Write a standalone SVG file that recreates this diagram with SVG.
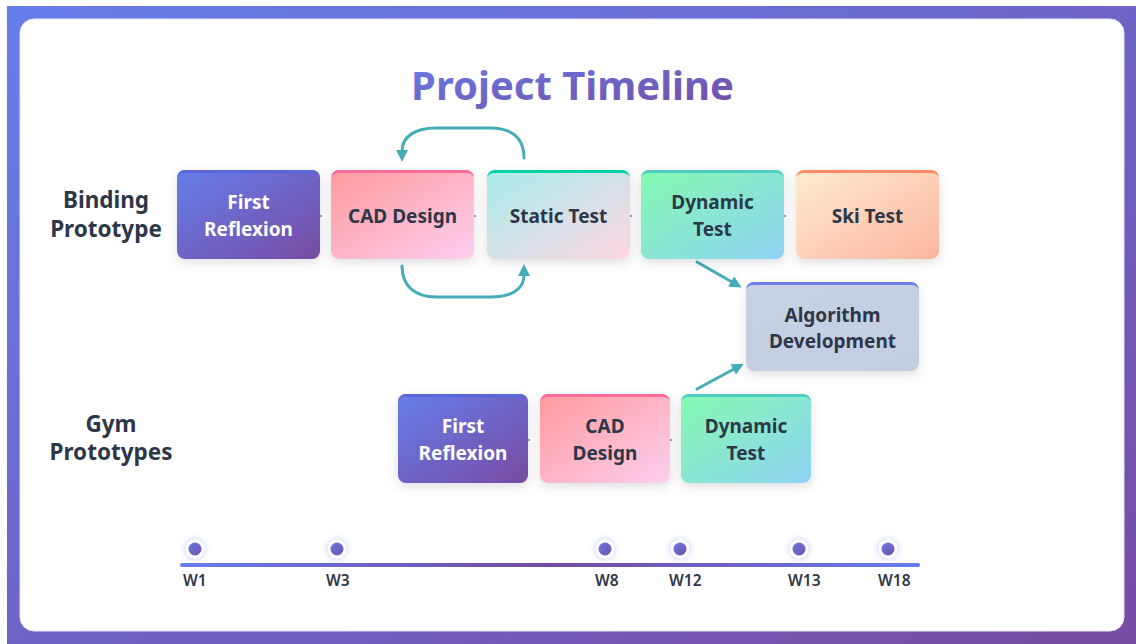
<svg xmlns="http://www.w3.org/2000/svg" width="1136" height="644" viewBox="0 0 1136 644">
  <defs>
    <linearGradient id="bg" x1="0" y1="0" x2="1" y2="1">
      <stop offset="0" stop-color="#667eea"/>
      <stop offset="1" stop-color="#764ba2"/>
    </linearGradient>
    <linearGradient id="titleGrad" x1="0" y1="0" x2="1" y2="1">
      <stop offset="0" stop-color="#667eea"/>
      <stop offset="1" stop-color="#764ba2"/>
    </linearGradient>
    <linearGradient id="gPurple" x1="0" y1="0" x2="1" y2="1">
      <stop offset="0" stop-color="#667eea"/>
      <stop offset="1" stop-color="#764ba2"/>
    </linearGradient>
    <linearGradient id="gPink" x1="0" y1="0" x2="1" y2="1">
      <stop offset="0" stop-color="#ff9a9e"/>
      <stop offset="1" stop-color="#fecfef"/>
    </linearGradient>
    <linearGradient id="gMint" x1="0" y1="0" x2="1" y2="1">
      <stop offset="0" stop-color="#a8edea"/>
      <stop offset="1" stop-color="#fed6e3"/>
    </linearGradient>
    <linearGradient id="gGreen" x1="0" y1="0" x2="1" y2="1">
      <stop offset="0" stop-color="#84fab0"/>
      <stop offset="1" stop-color="#8fd3f4"/>
    </linearGradient>
    <linearGradient id="gPeach" x1="0" y1="0" x2="1" y2="1">
      <stop offset="0" stop-color="#ffecd2"/>
      <stop offset="1" stop-color="#fcb69f"/>
    </linearGradient>
    <linearGradient id="gSteel" x1="0" y1="0" x2="1" y2="1">
      <stop offset="0" stop-color="#c6d1e4"/>
      <stop offset="1" stop-color="#c3cee2"/>
    </linearGradient>
    <linearGradient id="axisGrad" x1="0" y1="0" x2="1" y2="0">
      <stop offset="0" stop-color="#667eea"/>
      <stop offset="0.5" stop-color="#764ba2"/>
      <stop offset="1" stop-color="#667eea"/>
    </linearGradient>
    <filter id="shadow" x="-20%" y="-20%" width="140%" height="160%">
      <feDropShadow dx="0" dy="4" stdDeviation="6" flood-color="#000" flood-opacity="0.12"/>
    </filter>
    <filter id="glow" x="-100%" y="-100%" width="300%" height="300%">
      <feDropShadow dx="0" dy="0" stdDeviation="3" flood-color="#667eea" flood-opacity="0.45"/>
    </filter>
    <marker id="arrow" viewBox="0 0 12 12" markerWidth="12" markerHeight="12" refX="1" refY="6" orient="auto" markerUnits="userSpaceOnUse">
      <path d="M0,0 L12,6 L0,12 Z" fill="#45adb9"/>
    </marker>
    <style>
      .lane { font-family: "Noto Sans", "Open Sans", sans-serif; font-weight: 700; font-size: 22.5px; fill: #2d3748; text-anchor: middle; }
      .lbl { font-family: "Noto Sans", "Open Sans", sans-serif; font-weight: 700; font-size: 19px; fill: #2d3748; text-anchor: middle; }
      .lbl.light { fill: #ffffff; }
      .tick { font-family: "Noto Sans", "Open Sans", sans-serif; font-weight: 600; font-size: 15.5px; fill: #2d3748; }
      .box { filter: url(#shadow); }
      .flow { fill: none; stroke: #45adb9; stroke-width: 3; stroke-linecap: round; marker-end: url(#arrow); }
      .link { stroke: #667eea; stroke-width: 1.5; }
      .dot { stroke: #ffffff; stroke-width: 3; fill: url(#gPurple); filter: url(#glow); }
    </style>
  </defs>

  <!-- page background and card -->
  <rect x="0" y="0" width="1136" height="644" fill="#ffffff"/>
  <rect x="7" y="6" width="1129" height="638" fill="url(#bg)"/>
  <rect x="20" y="19" width="1104" height="612" rx="14" fill="#ffffff" stroke="#e4e6fb" stroke-width="1"/>

  <text x="572.5" y="100" font-family="'Noto Sans', 'Open Sans', sans-serif" font-weight="700" font-size="40" fill="url(#titleGrad)" text-anchor="middle">Project Timeline</text>

  <!-- lane labels -->
  <g id="lane-binding">
    <text class="lane" x="106" y="208">Binding</text>
    <text class="lane" x="106" y="237">Prototype</text>
  </g>
  <g id="lane-gym">
    <text class="lane" x="111" y="432">Gym</text>
    <text class="lane" x="111" y="460">Prototypes</text>
  </g>

  <!-- connectors -->
  <g id="connectors">
    <line class="link" x1="318" y1="216" x2="322" y2="216"/>
    <line class="link" x1="472" y1="216" x2="476" y2="216"/>
    <line class="link" x1="628" y1="216" x2="632" y2="216"/>
    <line class="link" x1="782" y1="216" x2="786" y2="216"/>
    <line class="link" x1="526" y1="440" x2="530" y2="440"/>
    <line class="link" x1="668" y1="440" x2="672" y2="440"/>
    <path class="flow" d="M524,158 C524,138 512,128 490,128 H436 C416,128 402,136 402,151"/>
    <path class="flow" d="M402,266 C402,287 416,297 436,297 H490 C512,297 524,289 524,275"/>
    <path class="flow" d="M697,262 L732,282"/>
    <path class="flow" d="M697,389 L734,369"/>
  </g>

  <!-- binding prototype row -->
  <g id="b-first-reflexion">
    <rect class="box" x="177" y="170" width="143" height="89" rx="8" fill="url(#gPurple)"/>
    <path d="M177,178 A8,8 0 0 1 185,170 H312 A8,8 0 0 1 320,178 A8,5 0 0 0 312,173 H185 A8,5 0 0 0 177,178 Z" fill="#5a67d8"/>
    <text class="lbl light" x="248.5" y="209">First</text>
    <text class="lbl light" x="248.5" y="236">Reflexion</text>
  </g>
  <g id="b-cad-design">
    <rect class="box" x="331" y="170" width="143" height="89" rx="8" fill="url(#gPink)"/>
    <path d="M331,178 A8,8 0 0 1 339,170 H466 A8,8 0 0 1 474,178 A8,5 0 0 0 466,173 H339 A8,5 0 0 0 331,178 Z" fill="#ff6b9d"/>
    <text class="lbl" x="402.5" y="223">CAD Design</text>
  </g>
  <g id="b-static-test">
    <rect class="box" x="487" y="170" width="143" height="89" rx="8" fill="url(#gMint)"/>
    <path d="M487,178 A8,8 0 0 1 495,170 H622 A8,8 0 0 1 630,178 A8,5 0 0 0 622,173 H495 A8,5 0 0 0 487,178 Z" fill="#00d2a8"/>
    <text class="lbl" x="558.5" y="223">Static Test</text>
  </g>
  <g id="b-dynamic-test">
    <rect class="box" x="641" y="170" width="143" height="89" rx="8" fill="url(#gGreen)"/>
    <path d="M641,178 A8,8 0 0 1 649,170 H776 A8,8 0 0 1 784,178 A8,5 0 0 0 776,173 H649 A8,5 0 0 0 641,178 Z" fill="#4ecdc4"/>
    <text class="lbl" x="712.5" y="209">Dynamic</text>
    <text class="lbl" x="712.5" y="236">Test</text>
  </g>
  <g id="b-ski-test">
    <rect class="box" x="796" y="170" width="143" height="89" rx="8" fill="url(#gPeach)"/>
    <path d="M796,178 A8,8 0 0 1 804,170 H931 A8,8 0 0 1 939,178 A8,5 0 0 0 931,173 H804 A8,5 0 0 0 796,178 Z" fill="#ff8a65"/>
    <text class="lbl" x="867.5" y="223">Ski Test</text>
  </g>

  <!-- shared step -->
  <g id="algorithm-development">
    <rect class="box" x="746" y="282" width="173" height="89" rx="8" fill="url(#gSteel)"/>
    <path d="M746,290 A8,8 0 0 1 754,282 H911 A8,8 0 0 1 919,290 A8,5 0 0 0 911,285 H754 A8,5 0 0 0 746,290 Z" fill="#6b7fea"/>
    <text class="lbl" x="832.5" y="322">Algorithm</text>
    <text class="lbl" x="832.5" y="348">Development</text>
  </g>

  <!-- gym prototypes row -->
  <g id="g-first-reflexion">
    <rect class="box" x="398" y="394" width="130" height="89" rx="8" fill="url(#gPurple)"/>
    <path d="M398,402 A8,8 0 0 1 406,394 H520 A8,8 0 0 1 528,402 A8,5 0 0 0 520,397 H406 A8,5 0 0 0 398,402 Z" fill="#5a67d8"/>
    <text class="lbl light" x="463" y="433">First</text>
    <text class="lbl light" x="463" y="460">Reflexion</text>
  </g>
  <g id="g-cad-design">
    <rect class="box" x="540" y="394" width="130" height="89" rx="8" fill="url(#gPink)"/>
    <path d="M540,402 A8,8 0 0 1 548,394 H662 A8,8 0 0 1 670,402 A8,5 0 0 0 662,397 H548 A8,5 0 0 0 540,402 Z" fill="#ff6b9d"/>
    <text class="lbl" x="605" y="433">CAD</text>
    <text class="lbl" x="605" y="460">Design</text>
  </g>
  <g id="g-dynamic-test">
    <rect class="box" x="681" y="394" width="130" height="89" rx="8" fill="url(#gGreen)"/>
    <path d="M681,402 A8,8 0 0 1 689,394 H803 A8,8 0 0 1 811,402 A8,5 0 0 0 803,397 H689 A8,5 0 0 0 681,402 Z" fill="#4ecdc4"/>
    <text class="lbl" x="746" y="433">Dynamic</text>
    <text class="lbl" x="746" y="460">Test</text>
  </g>

  <!-- week axis -->
  <g id="axis">
    <rect x="180" y="563" width="740" height="4" rx="2" fill="url(#axisGrad)"/>
    <circle class="dot" cx="195" cy="549" r="8"/>
    <circle class="dot" cx="337" cy="549" r="8"/>
    <circle class="dot" cx="605" cy="549" r="8"/>
    <circle class="dot" cx="680" cy="549" r="8"/>
    <circle class="dot" cx="799" cy="549" r="8"/>
    <circle class="dot" cx="888" cy="549" r="8"/>
    <text class="tick" x="183" y="586">W1</text>
    <text class="tick" x="326" y="586">W3</text>
    <text class="tick" x="595" y="586">W8</text>
    <text class="tick" x="669" y="586">W12</text>
    <text class="tick" x="788" y="586">W13</text>
    <text class="tick" x="878" y="586">W18</text>
  </g>
</svg>
